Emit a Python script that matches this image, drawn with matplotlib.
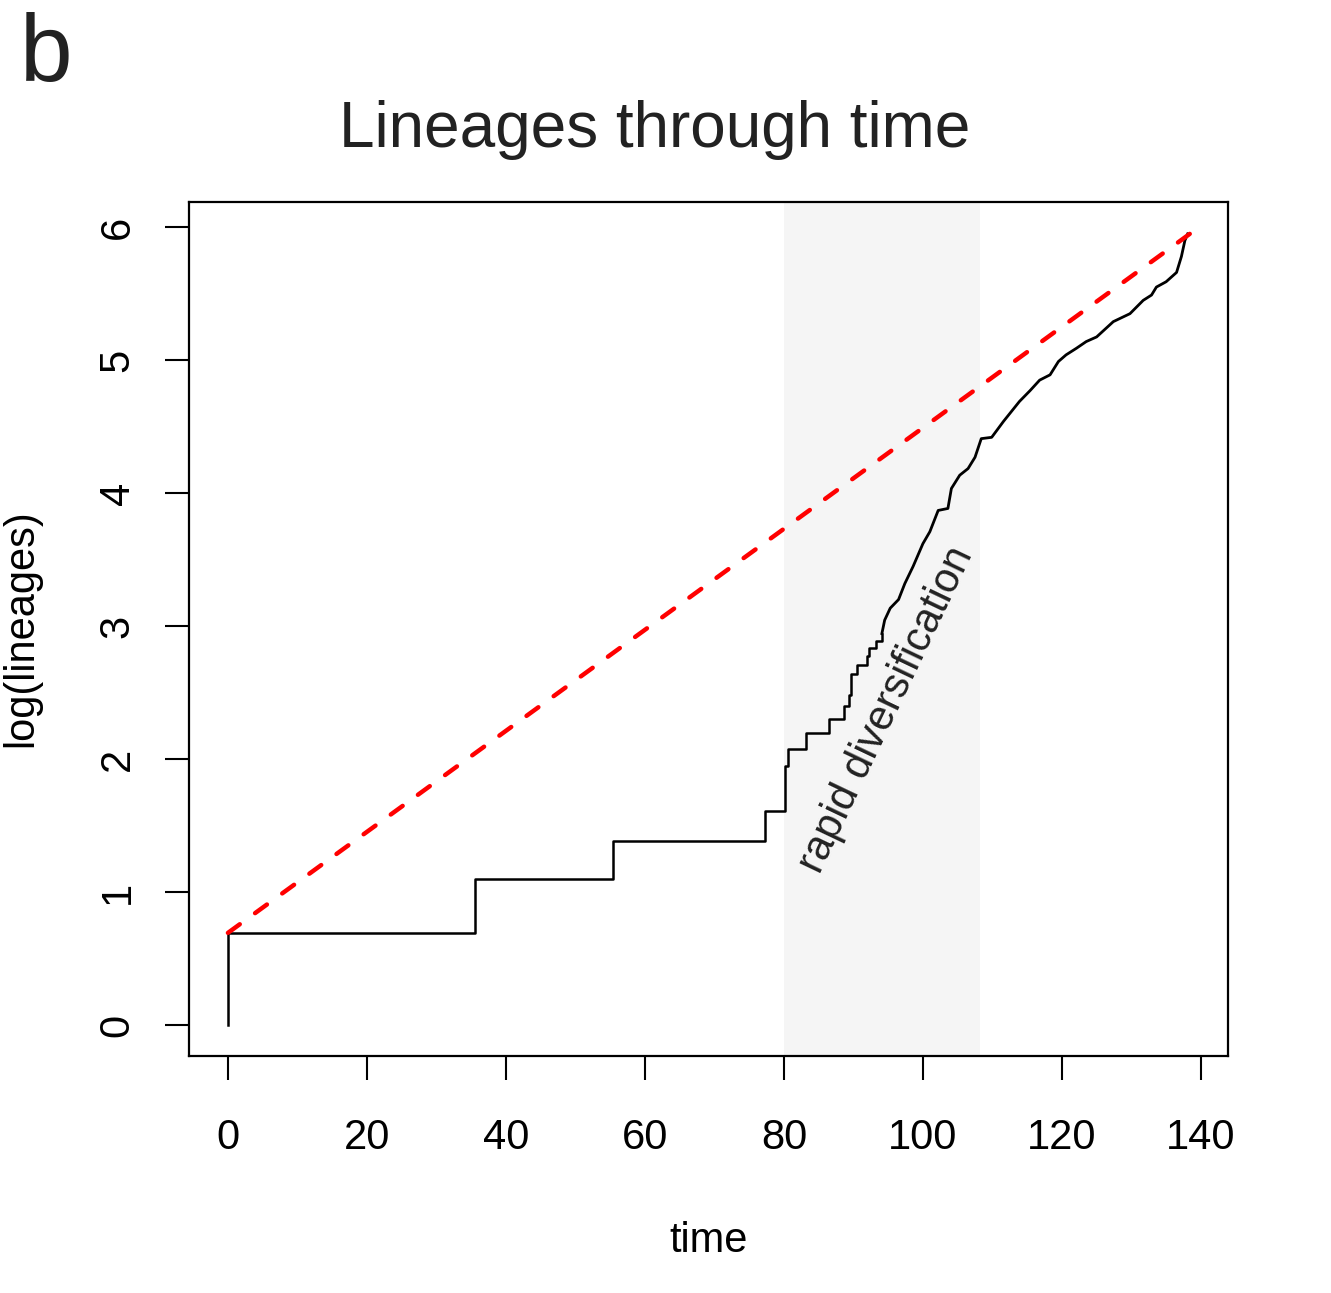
import matplotlib
matplotlib.use("Agg")
import matplotlib.pyplot as plt
import numpy as np

plt.rcParams['font.family'] = ['Liberation Sans', 'DejaVu Sans']

# Lineage-through-time curve, early sparse part (steps): time, log(lineages)
step_time = [0.0, 0.0, 35.5, 55.4, 77.3, 80.1, 80.6, 83.2, 86.5, 88.7, 89.4, 89.7,
             90.5, 91.9, 92.3, 93.2, 94.1]
step_logn = [0.0, 0.693, 1.099, 1.386, 1.609, 1.946, 2.079, 2.197, 2.303, 2.398,
             2.485, 2.639, 2.708, 2.773, 2.833, 2.890, 2.944]

# Dense later part (many tiny steps), traced points
dense_time = [94.1, 94.5, 95.3, 96.5, 97.4, 98.6, 100.0, 101.0, 102.2, 103.6, 104.1,
              105.3, 106.5, 107.5, 108.4, 109.9, 111.6, 113.9, 115.4, 116.8, 118.3,
              119.5, 120.6, 122.1, 123.5, 125.0, 127.4, 129.8, 131.7, 132.9, 133.6,
              135.0, 136.5, 137.2, 137.7, 138.1]
dense_logn = [2.944, 3.045, 3.135, 3.20, 3.32, 3.45, 3.62, 3.71, 3.87, 3.885, 4.035,
              4.135, 4.185, 4.27, 4.41, 4.42, 4.54, 4.69, 4.77, 4.85, 4.89, 4.99,
              5.04, 5.09, 5.14, 5.175, 5.29, 5.35, 5.45, 5.49, 5.55, 5.59, 5.66,
              5.78, 5.90, 5.95]

# Expected (pure-birth) line endpoints
ref_time = [0.0, 138.4]
ref_logn = [0.693, 5.95]

# Shaded period
shade_range = [80.0, 108.2]

x_ticks = [0, 20, 40, 60, 80, 100, 120, 140]
y_ticks = [0, 1, 2, 3, 4, 5, 6]

fig = plt.figure(figsize=(13.31, 12.93), dpi=100)
ax = fig.add_axes([0.142, 0.1833, 0.7806, 0.6605])

ax.axvspan(shade_range[0], shade_range[1], color='#f5f5f5', lw=0, zorder=0)
ax.step(step_time, step_logn, where='post', color='black', lw=1.8, zorder=2)
ax.plot(dense_time, dense_logn, color='black', lw=2.0, zorder=2)
ax.plot(ref_time, ref_logn, color='#ff0000', lw=3.2, ls=(0, (3.3, 4.25)),
        dash_capstyle='round', zorder=3)

ax.text(94.8, 2.37, 'rapid diversification', rotation=64.5, fontsize=30,
        ha='center', va='center', color='#222222', rotation_mode='anchor')

ax.set_xlim(-5.6, 143.9)
ax.set_ylim(-0.233, 6.19)
ax.set_xticks(x_ticks)
ax.set_yticks(y_ticks)
ax.set_xticklabels([str(v) for v in x_ticks], fontsize=30)
ax.set_yticklabels([str(v) for v in y_ticks], fontsize=30, rotation=90, va='center')
ax.tick_params(axis='x', direction='out', length=17, width=1.5, pad=28)
ax.tick_params(axis='y', direction='out', length=17, width=1.5, pad=20)
for s in ax.spines.values():
    s.set_linewidth(1.6)

ax.set_xlabel('time', fontsize=30, labelpad=45)

fig.text(21 / 1331, 1 - 628 / 1293, 'log(lineages)', fontsize=30, rotation=90,
         ha='center', va='center', color='black')
fig.text(655 / 1331, 1 - 130 / 1293, 'Lineages through time', fontsize=46,
         ha='center', va='center', color='#222222')
fig.text(20 / 1331, 1 - 56 / 1293, 'b', fontsize=68, ha='left', va='center',
         color='#222222')

fig.savefig('out.png', dpi=100)
